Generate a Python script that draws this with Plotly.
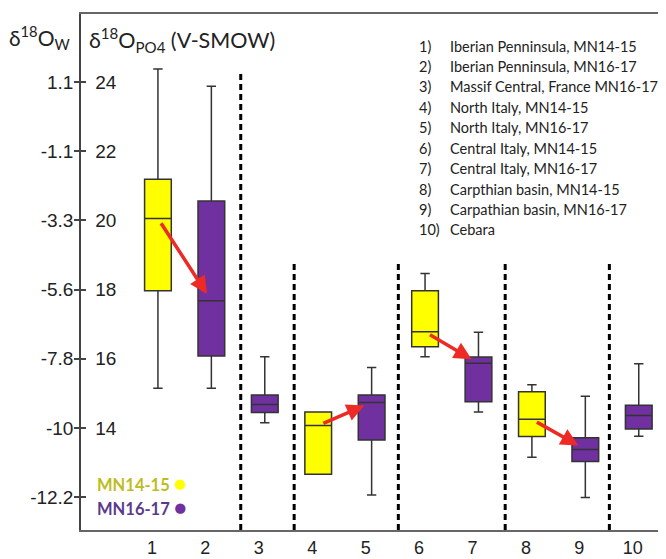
import plotly.graph_objects as go

# ---- data ----
categories = [1, 2, 3, 4, 5, 6, 7, 8, 9, 10]
groups = ["MN14-15", "MN16-17", "MN16-17", "MN14-15", "MN16-17",
          "MN14-15", "MN16-17", "MN14-15", "MN16-17", "MN16-17"]
lower_whisker = [15.15, 15.15, 14.15, 12.66, 12.06, 16.06, 14.46, 13.15, 11.99, 13.76]
q1_values     = [17.97, 16.08, 14.45, 12.66, 13.65, 16.35, 14.76, 13.75, 13.03, 13.97]
median_values = [20.06, 17.68, 14.68, 14.07, 14.74, 16.78, 15.87, 14.25, 13.38, 14.36]
q3_values     = [21.19, 20.56, 14.95, 14.46, 14.95, 17.97, 16.05, 15.05, 13.72, 14.66]
upper_whisker = [24.38, 23.88, 16.06, 14.46, 15.75, 18.47, 16.77, 15.25, 14.92, 15.86]

arrow_pairs = [(1, 2), (4, 5), (6, 7), (8, 9)]

separator_x = [2.55, 3.55, 5.5, 7.5, 9.45]
separator_top = [24.26, 18.8, 18.8, 18.8, 18.8]

po4_ticks = [12, 14, 16, 18, 20, 22, 24]
po4_labels = ["", "14", "16", "18", "20", "22", "24"]
w_labels = ["-12.2", "-10", "-7.8", "-5.6", "-3.3", "-1.1", "1.1"]

site_numbers = ["1)", "2)", "3)", "4)", "5)", "6)", "7)", "8)", "9)", "10)"]
site_names = ["Iberian Penninsula, MN14-15", "Iberian Penninsula, MN16-17",
              "Massif Central, France MN16-17", "North Italy, MN14-15",
              "North Italy, MN16-17", "Central Italy, MN14-15",
              "Central Italy, MN16-17", "Carpthian basin, MN14-15",
              "Carpathian basin, MN16-17", "Cebara"]

colors = {"MN14-15": "#ffff00", "MN16-17": "#7030a0"}
text_colors = {"MN14-15": "#bfbb22", "MN16-17": "#5a3a8c"}

yrange = [11.05, 25.97]

# page offsets (the html body has an 8px margin)
PL, PT, PW, PH = 81, 14, 585, 516   # plot area in page pixels


def px(xp):
    return (xp - PL) / PW


def py(yp):
    return (PT + PH - yp) / PH


fig = go.Figure()

for g in ["MN14-15", "MN16-17"]:
    idx = [i for i, gg in enumerate(groups) if gg == g]
    fig.add_trace(go.Box(
        x=[categories[i] for i in idx],
        q1=[q1_values[i] for i in idx],
        median=[median_values[i] for i in idx],
        q3=[q3_values[i] for i in idx],
        lowerfence=[lower_whisker[i] for i in idx],
        upperfence=[upper_whisker[i] for i in idx],
        fillcolor=colors[g],
        line=dict(color="#333333", width=1.5),
        width=0.5, whiskerwidth=0.35,
        boxpoints=False, name=g, showlegend=False,
    ))

# separators
for xs, yt in zip(separator_x, separator_top):
    fig.add_shape(type="line", x0=xs, x1=xs, y0=yrange[0], y1=yt,
                  xref="x", yref="y", line=dict(color="black", width=3, dash="6px,4px"),
                  layer="above")

# arrows between medians
for a, b in arrow_pairs:
    ia, ib = categories.index(a), categories.index(b)
    fig.add_annotation(x=categories[ib], y=median_values[ib],
                       ax=categories[ia], ay=median_values[ia],
                       xref="x", yref="y", axref="x", ayref="y",
                       showarrow=True, arrowhead=2, arrowsize=1.0, arrowwidth=3.5,
                       arrowcolor="#ee2a24", standoff=8, startstandoff=4, text="")

# site list
for i, (n, s) in enumerate(zip(site_numbers, site_names)):
    yy = py(46 + i * 20.44)
    fig.add_annotation(x=px(417), y=yy, xref="paper", yref="paper",
                       text=n, showarrow=False, xanchor="left", yanchor="middle",
                       font=dict(family="Lato", size=14.5, color="#222"))
    fig.add_annotation(x=px(448), y=yy, xref="paper", yref="paper",
                       text=s, showarrow=False, xanchor="left", yanchor="middle",
                       font=dict(family="Lato", size=14.5, color="#222"))

# legend
for j, g in enumerate(["MN14-15", "MN16-17"]):
    fig.add_annotation(x=px(95), y=py(482 + j * 24), xref="paper", yref="paper",
                       text=f"<b>{g}</b> <span style='color:{colors[g]};font-size:21px'>●</span>",
                       showarrow=False, xanchor="left", yanchor="middle",
                       font=dict(family="Lato", size=16.5, color=text_colors[g]))

# axis titles
fig.add_annotation(x=px(7), y=py(38), xref="paper", yref="paper",
                   text="δ<sup>18</sup>O<sub>W</sub>", showarrow=False,
                   xanchor="left", yanchor="middle",
                   font=dict(family="Lato", size=21, color="#222"))
fig.add_annotation(x=px(87), y=py(40), xref="paper", yref="paper",
                   text="δ<sup>18</sup>O<sub>PO4</sub> (V-SMOW)", showarrow=False,
                   xanchor="left", yanchor="middle",
                   font=dict(family="Lato", size=21.5, color="#222"))

fig.add_trace(go.Scatter(x=[None], y=[None], yaxis="y2", showlegend=False, hoverinfo="skip"))

FW, FH = 658, 551
fig.update_layout(
    width=FW, height=FH,
    margin=dict(l=PL - 8, r=FW - (PL - 8) - PW, t=PT - 8, b=FH - (PT - 8) - PH,
                autoexpand=False),
    plot_bgcolor="white", paper_bgcolor="white",
    boxmode="overlay",
    xaxis=dict(range=[-0.44, 10.51], tickvals=categories,
               ticktext=[str(c) for c in categories],
               showgrid=False, zeroline=False, showline=True, mirror=True,
               linecolor="#666", linewidth=2, ticks="", ticklabelshift=-6,
               tickfont=dict(family="Liberation Sans", size=18, color="#222")),
    yaxis=dict(range=yrange, tickvals=po4_ticks, ticktext=w_labels,
               showgrid=False, zeroline=False, showline=True,
               linecolor="#444", linewidth=1.5, ticks="outside", ticklen=5,
               tickcolor="#444", tickwidth=1.5, ticklabelstandoff=-3,
               tickfont=dict(family="Liberation Sans", size=19, color="#222")),
    yaxis2=dict(range=yrange, overlaying="y", side="left", anchor="x",
                tickvals=po4_ticks, ticktext=po4_labels,
                showgrid=False, zeroline=False, showline=False,
                ticks="inside", ticklen=5, tickcolor="#444", tickwidth=1.5,
                ticklabelposition="inside", ticklabelstandoff=10,
                tickfont=dict(family="Liberation Sans", size=19, color="#222")),
)

fig.write_html("out.html")
